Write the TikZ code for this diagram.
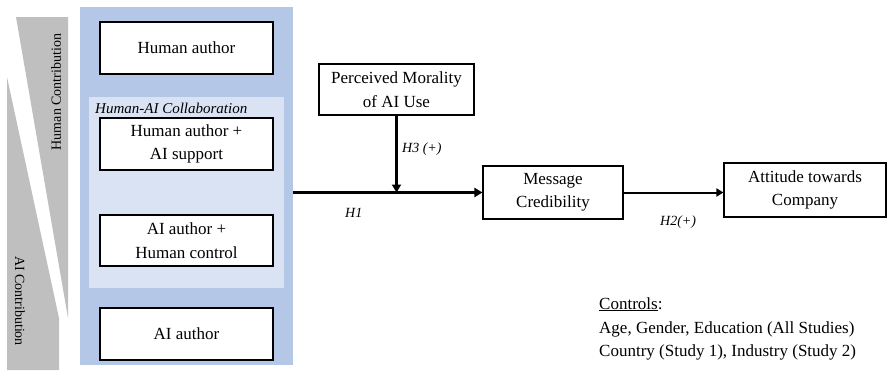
\documentclass[tikz,border=0pt]{standalone}
\usepackage{fontspec}
\setmainfont{Liberation Serif}
\usetikzlibrary{arrows.meta}
\definecolor{panelblue}{HTML}{B4C7E7}
\definecolor{innerblue}{HTML}{DAE3F3}
\definecolor{wedgegray}{HTML}{BFBFBF}
\tikzset{
  box/.style={draw=black, line width=1.1pt, fill=white, minimum width=173pt, minimum height=52pt, align=center, inner sep=2pt, font=\fontsize{17}{23.5}\selectfont},
  hyp/.style={anchor=base west, inner sep=0pt, font=\fontsize{14}{16}\selectfont\itshape},
  ctrl/.style={anchor=base west, inner sep=0pt, font=\fontsize{17}{20}\selectfont},
  sidelabel/.style={inner sep=0pt, font=\fontsize{14}{16}\selectfont},
  bigarrow/.style={line width=2.7pt, -{Triangle[length=8pt,width=9pt]}},
  smallarrow/.style={line width=2pt, -{Triangle[length=7pt,width=8pt]}}
}
\begin{document}
\begin{tikzpicture}[x=1pt,y=-1pt]
\useasboundingbox (0,0) rectangle (888,375);
% wedges
\fill[wedgegray] (16,17) -- (68,17) -- (68,318) -- cycle;
\fill[wedgegray] (7,77) -- (59,318) -- (59,370) -- (7,370) -- cycle;
\node[rotate=90, sidelabel] (hc) at (56,92) {Human Contribution};
\node[rotate=-90, sidelabel] (aic) at (20,301) {AI Contribution};
% panels
\node[fill=panelblue, minimum width=213pt, minimum height=358pt, inner sep=0pt] (panel) at (186.5,186) {};
\node[fill=innerblue, minimum width=195pt, minimum height=191pt, inner sep=0pt] (inner) at (186.5,192.5) {};
\node[anchor=base west, inner sep=0pt, font=\fontsize{15}{17}\selectfont\itshape] (collab) at (95,113) {Human-AI Collaboration};
% boxes
\node[box] (ha) at (186.5,48) {Human author};
\node[box] (has) at (186.5,144) {Human author +\\AI support};
\node[box, minimum height=51pt] (ahc) at (186.5,240.5) {AI author +\\Human control};
\node[box] (aa) at (186.5,334) {AI author};
\node[box, minimum width=155pt, minimum height=51pt] (mor) at (396.5,89.5) {Perceived Morality\\of AI Use};
\node[box, minimum width=140pt, minimum height=53pt] (msg) at (553,192.5) {Message\\Credibility};
\node[box, minimum width=162pt, minimum height=54pt] (att) at (805,190) {Attitude towards\\Company};
% arrows
\draw[bigarrow] (panel.east |- msg.west) -- (msg.west);
\draw[bigarrow] (mor.south) -- (mor.south |- msg.west);
\draw[smallarrow] (msg.east) -- (att.west |- msg.east);
% labels
\node[hyp] (h3) at (402,152) {H3 (+)};
\node[hyp] (h1) at (345,217) {H1};
\node[hyp] (h2) at (660,225) {H2(+)};
% controls
\node[ctrl] (c1) at (599,309) {\underline{Controls}:};
\node[ctrl] (c2) at (599,333) {Age, Gender, Education (All Studies)};
\node[ctrl] (c3) at (599,356) {Country (Study 1), Industry (Study 2)};
\end{tikzpicture}
\end{document}
